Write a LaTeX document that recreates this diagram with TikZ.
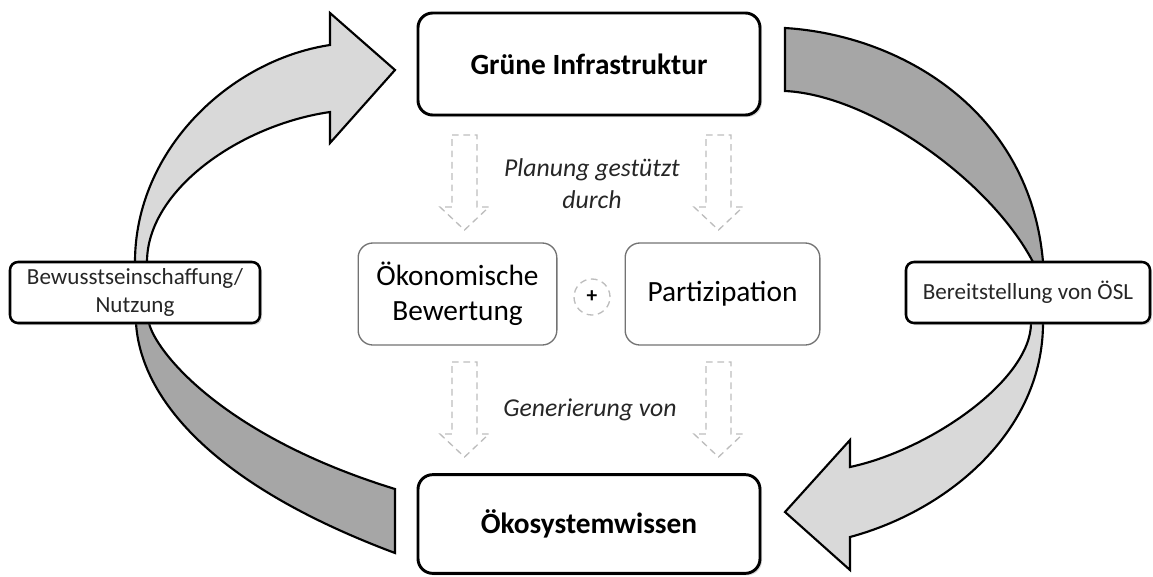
\documentclass[tikz,border=0pt]{standalone}
\usepackage{fontspec}
\setmainfont{Carlito}
\usetikzlibrary{shadows}

\definecolor{hellgrau}{HTML}{D9D9D9}
\definecolor{dunkelgrau}{HTML}{A6A6A6}
\definecolor{strichgrau}{HTML}{BDBDBD}
\definecolor{textgrau}{HTML}{262626}

\tikzset{
  hauptbox/.style={draw=black, line width=2.2pt, rounded corners=11pt, fill=white,
    align=center, inner sep=0pt, font=\fontsize{22}{26}\selectfont\bfseries,
    drop shadow={opacity=0.3, shadow xshift=1.5pt, shadow yshift=-1.5pt}},
  seitenbox/.style={draw=black, line width=1.9pt, rounded corners=6pt, fill=white,
    align=center, inner sep=0pt, text=textgrau, font=\fontsize{17.3}{21}\selectfont,
    drop shadow={opacity=0.3, shadow xshift=1.5pt, shadow yshift=-1.5pt}},
  innenbox/.style={draw=black!55, line width=1pt, rounded corners=11pt, fill=white,
    align=center, inner sep=0pt, font=\fontsize{22}{26}\selectfont},
  zwischentext/.style={align=center, text=textgrau, font=\fontsize{19.3}{24}\selectfont\itshape},
  blockpfeil/.style={draw=black, line width=1.6pt, line join=miter},
  hohlpfeil/.style={draw=strichgrau, line width=1pt, dash pattern=on 5pt off 3.5pt}
}

\begin{document}
\begin{tikzpicture}[x=0.75pt, y=-0.75pt]
  \useasboundingbox (0,0) rectangle (1153,576);

  % grosse Pfeile links
  \draw[blockpfeil, fill=hellgrau] (135,292) -- (135,262) .. controls (135,150) and (230,60) .. (330,45)
    -- (330,13) -- (395,70) -- (330,143) -- (330,112)
    .. controls (240,125) and (147,190) .. (147,262) -- (148,292) -- cycle;
  \draw[blockpfeil, fill=dunkelgrau] (136,292) -- (136,323) .. controls (140,390) and (200,480) .. (395,553)
    -- (395,489) .. controls (220,435) and (155,350) .. (149,323) -- (148,292) -- cycle;

  % grosse Pfeile rechts
  \draw[blockpfeil, fill=dunkelgrau] (785,28) .. controls (900,35) and (1030,110) .. (1043,262)
    -- (1043,292) -- (1031,292) -- (1033,262) .. controls (990,180) and (870,95) .. (785,91) -- cycle;
  \draw[blockpfeil, fill=hellgrau] (1043,292) -- (1043,323) .. controls (1043,430) and (950,510) .. (850,537)
    -- (850,570) -- (785,512) -- (850,440) -- (850,467)
    .. controls (930,450) and (1031,380) .. (1031,323) -- (1031,292) -- cycle;

  % gestrichelte Pfeile
  \draw[hohlpfeil] (452,135) -- (477,135) -- (477,207) -- (489,207) -- (464.5,230) -- (440,207) -- (452,207) -- cycle;
  \draw[hohlpfeil] (706,135) -- (731,135) -- (731,207) -- (743,207) -- (718.5,230) -- (694,207) -- (706,207) -- cycle;
  \draw[hohlpfeil] (452,362) -- (477,362) -- (477,434) -- (489,434) -- (464.5,457) -- (440,434) -- (452,434) -- cycle;
  \draw[hohlpfeil] (706,362) -- (731,362) -- (731,434) -- (743,434) -- (718.5,457) -- (694,434) -- (706,434) -- cycle;

  \node[hauptbox, minimum width=256.5pt, minimum height=76.5pt] (gi) at (589,64) {Grüne Infrastruktur};
  \node[hauptbox, minimum width=256.5pt, minimum height=74pt] (osw) at (589,524) {Ökosystemwissen};

  \node[innenbox, minimum width=149pt, minimum height=76.5pt] (oek) at (457.5,294) {Ökonomische\\Bewertung};
  \node[innenbox, minimum width=146pt, minimum height=76.5pt] (part) at (722.5,294) {Partizipation};
  \node[circle, draw=strichgrau, line width=1pt, dash pattern=on 5pt off 3.5pt, minimum size=27pt,
    inner sep=0pt, font=\fontsize{16}{16}\selectfont\bfseries] (plus) at (592,297) {+};

  \node[zwischentext] (planung) at (592,184) {Planung gestützt\\durch};
  \node[zwischentext] (generierung) at (590,410) {Generierung von};

  \node[seitenbox, minimum width=187.5pt, minimum height=45.75pt] (bew) at (135,292.5) {Bewusstseinschaffung/\\Nutzung};
  \node[seitenbox, minimum width=183pt, minimum height=45.75pt] (ber) at (1028,292.5) {Bereitstellung von ÖSL};
\end{tikzpicture}
\end{document}
